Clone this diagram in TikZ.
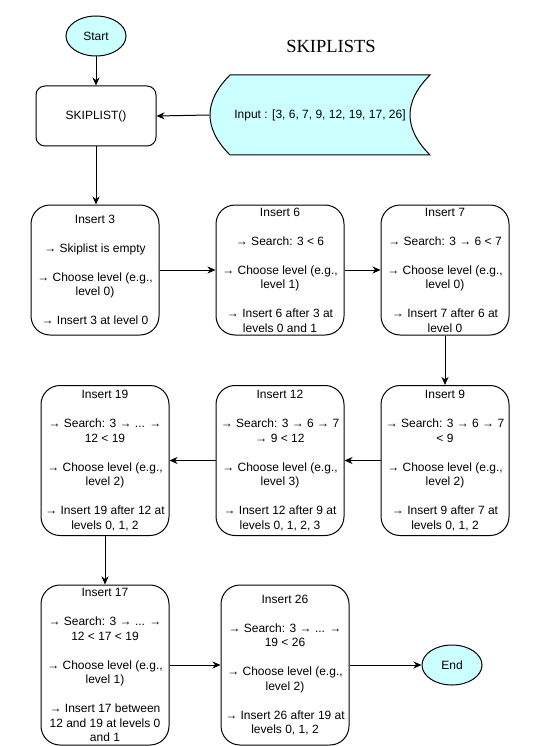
\documentclass[tikz,border=0pt]{standalone}
\usepackage{fontspec}
\setmainfont{Liberation Sans}
\newfontfamily\titlefont{Liberation Serif}
\usetikzlibrary{arrows.meta,shapes.geometric}
\definecolor{cyanfill}{HTML}{CCFFFF}
\newcommand{\skipln}{\\[14.5pt]}
\tikzset{
  base/.style={font=\fontsize{12}{14.5}\selectfont, align=center, inner sep=0pt, line width=1pt},
  term/.style={base, ellipse, draw, fill=cyanfill, minimum width=60pt, minimum height=40pt},
  initbox/.style={base, draw, rounded corners=9pt, minimum width=120pt, minimum height=60pt},
  stepbox/.style={base, draw, rounded corners=19pt, minimum width=128pt, minimum height=#1},
  stepbox/.default=130pt,
  conn/.style={line width=1pt, -{Stealth[length=8pt,width=7pt,inset=2.5pt]}},
  datashape/.style={line width=1pt, draw=black, fill=cyanfill}
}
\begin{document}
\begin{tikzpicture}[x=1pt,y=-1pt]
\useasboundingbox (0,0) rectangle (541,746);

% title
\node (title) at (331,46) {\titlefont\fontsize{18.5}{20}\selectfont SKIPLISTS};

% start / init
\node[term] (start) at (96,36) {Start};
\node[initbox] (init) at (96,116) {SKIPLIST()};

% input data shape
\draw[datashape] (230,75) -- (430,75)
  .. controls (403.33,101.67) and (403.33,128.33) .. (430,155)
  -- (230,155)
  .. controls (203.33,128.33) and (203.33,101.67) .. (230,75) -- cycle;
\node[base, minimum width=220pt, minimum height=80pt] (input) at (320,115) {Input : [3, 6, 7, 9, 12, 19, 17, 26]};

% row 1
\node[stepbox=130pt] (i3) at (95,270) {Insert 3\skipln
→ Skiplist is empty\skipln
→ Choose level (e.g.,\\ level 0)\skipln
→ Insert 3 at level 0};
\node[stepbox=130pt] (i6) at (280,270) {Insert 6\skipln
→ Search: 3 < 6\skipln
→ Choose level (e.g.,\\ level 1)\skipln
→ Insert 6 after 3 at\\ levels 0 and 1};
\node[stepbox=130pt] (i7) at (445,270) {Insert 7\skipln
→ Search: 3 → 6 < 7\skipln
→ Choose level (e.g.,\\ level 0)\skipln
→ Insert 7 after 6 at\\ level 0};

% row 2
\node[stepbox=150pt] (i9) at (445,460.5) {Insert 9\skipln
→ Search: 3 → 6 → 7\\ < 9\skipln
→ Choose level (e.g.,\\ level 2)\skipln
→ Insert 9 after 7 at\\ levels 0, 1, 2};
\node[stepbox=150pt] (i12) at (280,460.5) {Insert 12\skipln
→ Search: 3 → 6 → 7\\ → 9 < 12\skipln
→ Choose level (e.g.,\\ level 3)\skipln
→ Insert 12 after 9 at\\ levels 0, 1, 2, 3};
\node[stepbox=150pt] (i19) at (105,460.5) {Insert 19\skipln
→ Search: 3 → ... →\\ 12 < 19\skipln
→ Choose level (e.g.,\\ level 2)\skipln
→ Insert 19 after 12 at\\ levels 0, 1, 2};

% row 3
\node[stepbox=160pt] (i17) at (105,665) {Insert 17\skipln
→ Search: 3 → ... →\\ 12 < 17 < 19\skipln
→ Choose level (e.g.,\\ level 1)\skipln
→ Insert 17 between\\ 12 and 19 at levels 0\\ and 1};
\node[stepbox=160pt] (i26) at (285,665) {Insert 26\skipln
→ Search: 3 → ... →\\ 19 < 26\skipln
→ Choose level (e.g.,\\ level 2)\skipln
→ Insert 26 after 19 at\\ levels 0, 1, 2};
\node[term] (end) at (452,665) {End};

% connectors
\draw[conn] (start) -- (init);
\draw[conn] (input.west) -- (init.east);
\draw[conn] (init.south) -- (init.south |- i3.north);
\draw[conn] (i3) -- (i6);
\draw[conn] (i6) -- (i7);
\draw[conn] (i7) -- (i9);
\draw[conn] (i9) -- (i12);
\draw[conn] (i12) -- (i19);
\draw[conn] (i19) -- (i17);
\draw[conn] (i17) -- (i26);
\draw[conn] (i26) -- (end);
\end{tikzpicture}
\end{document}
